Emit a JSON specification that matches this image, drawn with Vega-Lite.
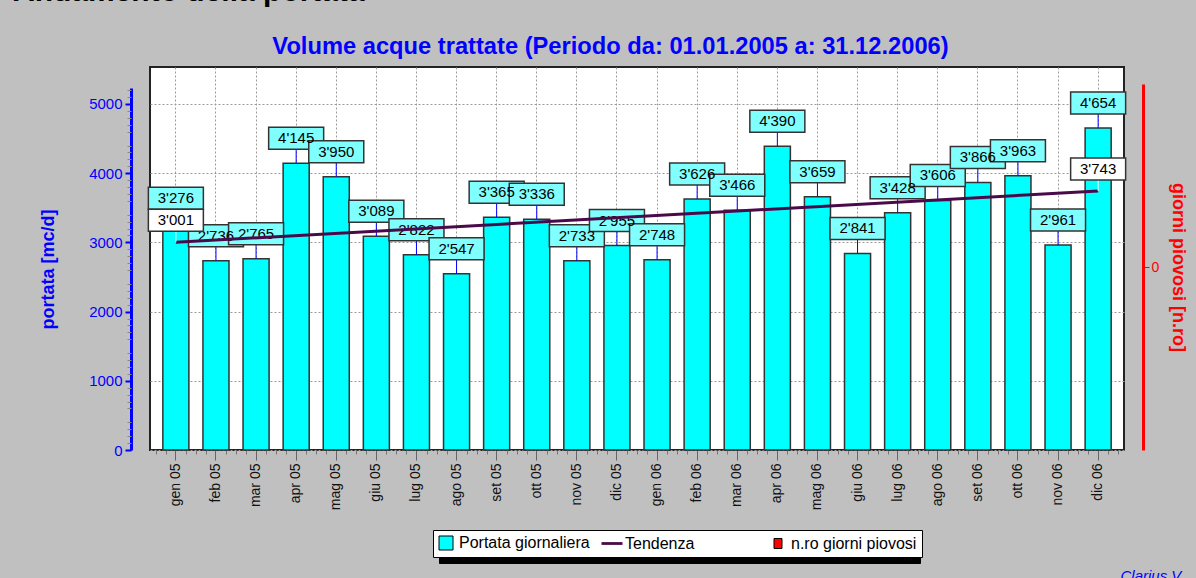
{
  "$schema": "https://vega.github.io/schema/vega-lite/v6.json",
  "autosize": "none",
  "width": 974,
  "height": 383,
  "padding": {"left": 150, "top": 67, "right": 72, "bottom": 128},
  "background": "#C0C0C0",
  "title": {
    "text": "Andamento della portata",
    "anchor": "start",
    "frame": "group",
    "dx": -137,
    "offset": 3,
    "baseline": "alphabetic",
    "font": "Liberation Sans",
    "fontSize": 30,
    "fontWeight": "bold",
    "color": "#000000"
  },
  "datasets": {
    "portata": [
      {"mese": "gen 05", "portata": 3276},
      {"mese": "feb 05", "portata": 2736},
      {"mese": "mar 05", "portata": 2765},
      {"mese": "apr 05", "portata": 4145},
      {"mese": "mag 05", "portata": 3950},
      {"mese": "giu 05", "portata": 3089},
      {"mese": "lug 05", "portata": 2822},
      {"mese": "ago 05", "portata": 2547},
      {"mese": "set 05", "portata": 3365},
      {"mese": "ott 05", "portata": 3336},
      {"mese": "nov 05", "portata": 2733},
      {"mese": "dic 05", "portata": 2955},
      {"mese": "gen 06", "portata": 2748},
      {"mese": "feb 06", "portata": 3626},
      {"mese": "mar 06", "portata": 3466},
      {"mese": "apr 06", "portata": 4390},
      {"mese": "mag 06", "portata": 3659},
      {"mese": "giu 06", "portata": 2841},
      {"mese": "lug 06", "portata": 3428},
      {"mese": "ago 06", "portata": 3606},
      {"mese": "set 06", "portata": 3866},
      {"mese": "ott 06", "portata": 3963},
      {"mese": "nov 06", "portata": 2961},
      {"mese": "dic 06", "portata": 4654}
    ],
    "tendenza": [
      {"mese": "gen 05", "tendenza": 3001},
      {"mese": "dic 06", "tendenza": 3743}
    ]
  },
  "layer": [
    {
      "encoding": {
        "x": {
          "field": "mese",
          "type": "ordinal",
          "scale": {
            "domain": ["gen 05","feb 05","mar 05","apr 05","mag 05","giu 05","lug 05","ago 05","set 05","ott 05","nov 05","dic 05","gen 06","feb 06","mar 06","apr 06","mag 06","giu 06","lug 06","ago 06","set 06","ott 06","nov 06","dic 06"],
            "paddingInner": 0.35,
            "paddingOuter": 0.32
          },
          "axis": {
            "orient": "bottom",
            "title": "Volume acque trattate (Periodo da: 01.01.2005 a: 31.12.2006)",
            "titleX": 460,
            "titleY": -397,
            "titleAlign": "center",
            "titleAnchor": null,
            "titleAngle": 0,
            "titleBaseline": "alphabetic",
            "titleFont": "Liberation Sans",
            "titleFontSize": 23.7,
            "titleFontWeight": "bold",
            "titleColor": "#0000FF",
            "titleLimit": 900,
            "labelAngle": -90,
            "labelAlign": "right",
            "labelBaseline": "middle",
            "labelPadding": 3,
            "labelFont": "Liberation Sans",
            "labelFontSize": 14,
            "labelColor": "#111111",
            "tickSize": 10,
            "tickColor": "#666666",
            "tickWidth": 1,
            "bandPosition": 0.5,
            "domain": false,
            "grid": true,
            "gridDash": [2, 2],
            "gridColor": "#9a9a9a",
            "gridWidth": 1
          }
        }
      },
      "layer": [
        {
          "data": {"name": "portata"},
          "mark": {"type": "bar", "stroke": "#333333", "strokeWidth": 1.5},
          "encoding": {
            "y": {
              "field": "portata",
              "type": "quantitative",
              "scale": {"domain": [0, 5231], "range": [383, 21], "nice": false, "zero": true},
              "axis": {
                "orient": "left",
                "offset": 19,
                "values": [0,500,1000,1500,2000,2500,3000,3500,4000,4500,5000],
                "format": "d",
                "domainColor": "#0000FF",
                "domainWidth": 3,
                "tickColor": "#0000FF",
                "tickSize": 6,
                "tickWidth": 2,
                "labelColor": "#0000FF",
                "labelFont": "Liberation Sans",
                "labelFontSize": 15,
                "labelPadding": 3,
                "grid": true,
                "gridDash": [2, 2],
                "gridColor": "#9a9a9a",
                "gridWidth": 1,
                "title": "portata [mc/d]",
                "titleColor": "#0000FF",
                "titleFont": "Liberation Sans",
                "titleFontSize": 18,
                "titleFontWeight": "bold",
                "titlePadding": 31,
                "titleLimit": 400
              }
            },
            "fill": {
              "datum": "Portata giornaliera",
              "type": "nominal",
              "scale": {
                "domain": ["Portata giornaliera", "Tendenza", "n.ro giorni piovosi"],
                "range": ["#00FFFF", "#4A0A4A", "#FF0000"]
              },
              "legend": {
                "title": null,
                "orient": "none",
                "legendX": 283,
                "legendY": 463,
                "zindex": 2,
                "direction": "horizontal",
                "columns": 3,
                "gridAlign": "all",
                "columnPadding": 9,
                "fillColor": "#FFFFFF",
                "strokeColor": "#000000",
                "padding": 5,
                "symbolSize": 196,
                "symbolStrokeColor": "#000000",
                "symbolStrokeWidth": 1,
                "labelFont": "Liberation Sans",
                "labelFontSize": 16,
                "labelColor": "#000000",
                "labelOffset": 5,
                "labelLimit": 300,
                "encode": {
                  "symbols": {
                    "update": {
                      "shape": {"signal": "datum.label === 'Tendenza' ? 'M-1.5,-0.2H1.5V0.2H-1.5Z' : (datum.label === 'n.ro giorni piovosi' ? 'M-0.57,-0.71H0.57V0.71H-0.57Z' : 'square')"},
                      "stroke": {"signal": "datum.label === 'Tendenza' ? 'transparent' : '#000000'"}
                    }
                  }
                }
              }
            }
          }
        },
        {
          "data": {"name": "portata"},
          "mark": {"type": "rule", "color": "#0000FF", "strokeWidth": 1, "y2Offset": -14},
          "encoding": {
            "y": {"field": "portata", "type": "quantitative"},
            "y2": {"field": "portata"}
          }
        },
        {
          "data": {"name": "portata"},
          "mark": {"type": "point", "shape": "M-2.5,-1H2.5V1H-2.5Z", "size": 484, "filled": true, "fill": "#80FFFF", "stroke": "#333333", "strokeWidth": 1.5, "opacity": 1, "yOffset": -25},
          "encoding": {
            "y": {"field": "portata", "type": "quantitative"}
          }
        },
        {
          "data": {"name": "portata"},
          "mark": {"type": "text", "yOffset": -25, "baseline": "middle", "align": "center", "font": "Liberation Sans", "fontSize": 15, "color": "#000000"},
          "encoding": {
            "y": {"field": "portata", "type": "quantitative"},
            "text": {"field": "portata", "type": "quantitative", "format": ","}
          }
        },
        {
          "data": {"name": "tendenza"},
          "mark": {"type": "line", "strokeWidth": 3},
          "encoding": {
            "y": {"field": "tendenza", "type": "quantitative"},
            "color": {
              "datum": "Tendenza",
              "type": "nominal",
              "scale": {
                "domain": ["Portata giornaliera*", "Tendenza", "n.ro giorni piovosi*"],
                "range": ["#000000", "#4A0A4A", "#000000"]
              },
              "legend": {
                "title": null,
                "orient": "none",
                "legendX": 289,
                "legendY": 469,
                "zindex": 1,
                "direction": "horizontal",
                "columns": 3,
                "gridAlign": "all",
                "columnPadding": 9,
                "fillColor": "#000000",
                "strokeColor": "#000000",
                "padding": 5,
                "symbolType": "square",
                "symbolSize": 196,
                "symbolFillColor": "#000000",
                "symbolStrokeColor": "#000000",
                "symbolStrokeWidth": 1,
                "labelFont": "Liberation Sans",
                "labelFontSize": 16,
                "labelColor": "#000000",
                "labelOffset": 5,
                "labelLimit": 300,
                "labelExpr": "replace(datum.label, '*', '')",
                "encode": {
                  "symbols": {
                    "update": {
                      "fill": {"value": "#000000"},
                      "stroke": {"value": "#000000"}
                    }
                  }
                }
              }
            }
          }
        },
        {
          "data": {"name": "tendenza"},
          "mark": {"type": "rule", "color": "#FFFFFF", "strokeWidth": 1, "y2Offset": -11},
          "encoding": {
            "y": {"field": "tendenza", "type": "quantitative"},
            "y2": {"field": "tendenza"}
          }
        },
        {
          "data": {"name": "tendenza"},
          "mark": {"type": "point", "shape": "M-2.5,-1H2.5V1H-2.5Z", "size": 484, "filled": true, "fill": "#FFFFFF", "stroke": "#333333", "strokeWidth": 1.5, "opacity": 1, "yOffset": -22},
          "encoding": {
            "y": {"field": "tendenza", "type": "quantitative"}
          }
        },
        {
          "data": {"name": "tendenza"},
          "mark": {"type": "text", "yOffset": -22, "baseline": "middle", "align": "center", "font": "Liberation Sans", "fontSize": 15, "color": "#000000"},
          "encoding": {
            "y": {"field": "tendenza", "type": "quantitative"},
            "text": {"field": "tendenza", "type": "quantitative", "format": ","}
          }
        }
      ]
    },
    {
      "data": {"name": "portata"},
      "mark": {"type": "point", "opacity": 0},
      "encoding": {
        "x": {
          "datum": 0,
          "type": "quantitative",
          "scale": {"domain": [-0.646, 23.643], "nice": false, "zero": false},
          "axis": {
            "orient": "bottom",
            "values": [-0.5,-0.25,0.25,0.5,0.75,1.25,1.5,1.75,2.25,2.5,2.75,3.25,3.5,3.75,4.25,4.5,4.75,5.25,5.5,5.75,6.25,6.5,6.75,7.25,7.5,7.75,8.25,8.5,8.75,9.25,9.5,9.75,10.25,10.5,10.75,11.25,11.5,11.75,12.25,12.5,12.75,13.25,13.5,13.75,14.25,14.5,14.75,15.25,15.5,15.75,16.25,16.5,16.75,17.25,17.5,17.75,18.25,18.5,18.75,19.25,19.5,19.75,20.25,20.5,20.75,21.25,21.5,21.75,22.25,22.5,22.75,23.25,23.5],
            "labels": false,
            "domain": false,
            "grid": false,
            "title": null,
            "tickColor": "#777777",
            "tickSize": 4,
            "tickWidth": 1
          }
        },
        "y": {
          "field": "portata",
          "type": "quantitative",
          "scale": {"domain": [0, 5231], "range": [383, 21], "nice": false, "zero": true},
          "axis": {
            "orient": "left",
            "offset": 19,
            "values": [100,200,300,400,600,700,800,900,1100,1200,1300,1400,1600,1700,1800,1900,2100,2200,2300,2400,2600,2700,2800,2900,3100,3200,3300,3400,3600,3700,3800,3900,4100,4200,4300,4400,4600,4700,4800,4900,5100,5200],
            "labels": false,
            "domain": false,
            "grid": false,
            "tickColor": "#888888",
            "tickSize": 4,
            "tickWidth": 1,
            "title": "Clarius V",
            "titleX": 989,
            "titleY": 513,
            "titleAngle": 0,
            "titleAlign": "left",
            "titleAnchor": null,
            "titleBaseline": "alphabetic",
            "titleFont": "Liberation Sans",
            "titleFontSize": 15,
            "titleFontStyle": "italic",
            "titleFontWeight": "normal",
            "titleColor": "#0000FF"
          }
        }
      }
    },
    {
      "data": {"name": "portata"},
      "mark": {"type": "square", "color": "#FF0000"},
      "encoding": {
        "y": {
          "field": "giorni_piovosi",
          "type": "quantitative",
          "scale": {"domain": [-1, 1], "range": [383, 17], "nice": false, "zero": false},
          "axis": {
            "orient": "right",
            "offset": 19,
            "values": [0],
            "domainColor": "#FF0000",
            "domainWidth": 3,
            "tickColor": "#FF0000",
            "tickSize": 6,
            "labelColor": "#FF0000",
            "labelFont": "Liberation Sans",
            "labelFontSize": 14,
            "labelPadding": 2,
            "grid": false,
            "title": "giorni piovosi [n.ro]",
            "titleAngle": 90,
            "titleColor": "#FF0000",
            "titleFont": "Liberation Sans",
            "titleFontSize": 18,
            "titleFontWeight": "bold",
            "titlePadding": 10,
            "titleLimit": 400
          }
        }
      }
    }
  ],
  "resolve": {"scale": {"y": "independent", "x": "independent"}},
  "config": {
    "locale": {"number": {"decimal": ".", "thousands": "'", "grouping": [3], "currency": ["", ""]}},
    "view": {"stroke": "#222222", "strokeWidth": 2, "fill": "#FFFFFF"},
    "font": "Liberation Sans"
  }
}
